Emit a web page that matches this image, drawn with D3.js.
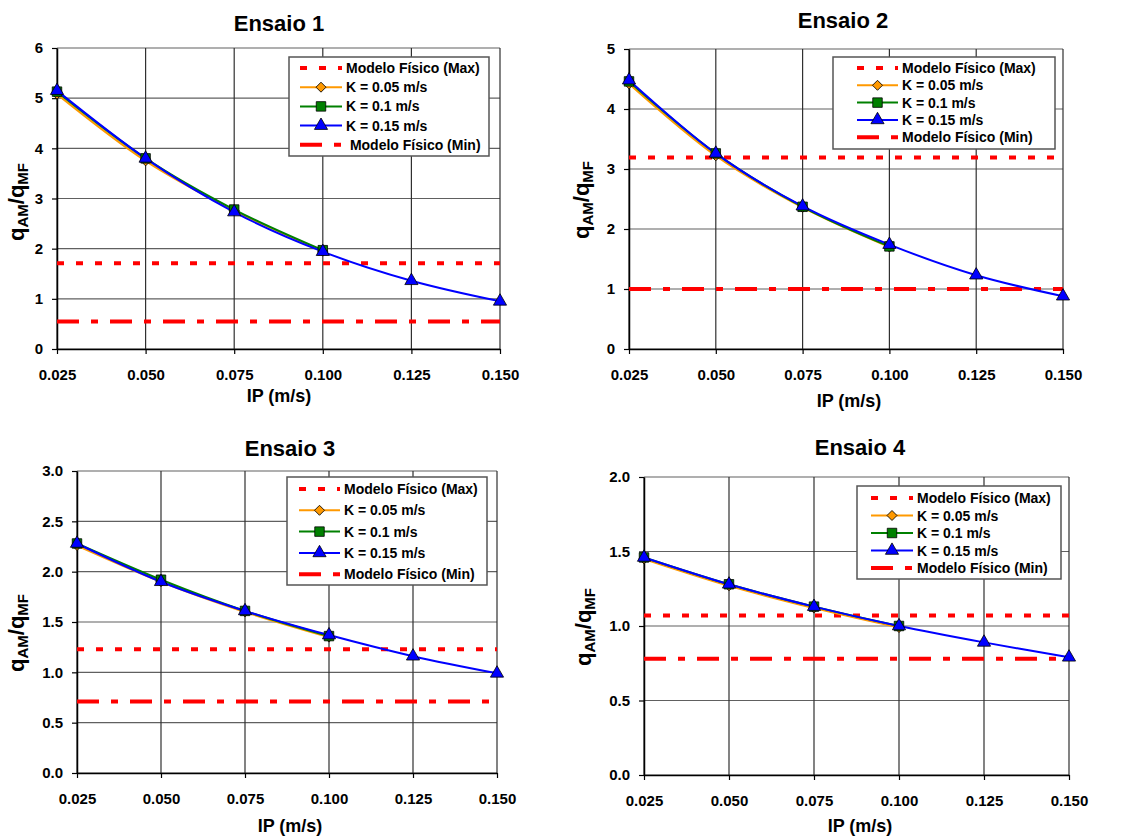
<!DOCTYPE html>
<html>
<head>
<meta charset="utf-8">
<script src="https://cdn.jsdelivr.net/npm/d3@7"></script>
<style>
  body { margin: 0; background: #fff; }
  svg { display: block; font-family: "Liberation Sans", Arial, sans-serif; font-weight: bold; }
</style>
</head>
<body>
<div id="chart"></div>
<script>
// x values (IP, m/s) and tick labels
var ipValues = [0.025, 0.050, 0.075, 0.100, 0.125, 0.150];
var xTickLabels = ["0.025", "0.050", "0.075", "0.100", "0.125", "0.150"];

var seriesNames = ["Modelo Físico (Max)", "K = 0.05 m/s", "K = 0.1 m/s", "K = 0.15 m/s", "Modelo Físico (Min)"];

// Ensaio 1
var e1K005 = [5.08, 3.75, 2.76, 1.95];
var e1K01 = [5.13, 3.80, 2.78, 1.97];
var e1K015 = [5.15, 3.80, 2.73, 1.94, 1.36, 0.95];
var e1Max = 1.71, e1Min = 0.55;
var e1YTicks = [0, 1, 2, 3, 4, 5, 6];
var e1YLabels = ["0", "1", "2", "3", "4", "5", "6"];

// Ensaio 2
var e2K005 = [4.42, 3.22, 2.36, 1.70];
var e2K01 = [4.46, 3.26, 2.37, 1.71];
var e2K015 = [4.48, 3.26, 2.38, 1.74, 1.23, 0.88];
var e2Max = 3.19, e2Min = 1.00;
var e2YTicks = [0, 1, 2, 3, 4, 5];
var e2YLabels = ["0", "1", "2", "3", "4", "5"];

// Ensaio 3
var e3K005 = [2.26, 1.90, 1.60, 1.35];
var e3K01 = [2.28, 1.92, 1.61, 1.36];
var e3K015 = [2.28, 1.90, 1.61, 1.37, 1.16, 0.99];
var e3Max = 1.23, e3Min = 0.71;
var e3YTicks = [0, 0.5, 1.0, 1.5, 2.0, 2.5, 3.0];
var e3YLabels = ["0.0", "0.5", "1.0", "1.5", "2.0", "2.5", "3.0"];

// Ensaio 4
var e4K005 = [1.45, 1.27, 1.12, 0.99];
var e4K01 = [1.46, 1.28, 1.13, 1.00];
var e4K015 = [1.46, 1.28, 1.13, 1.00, 0.89, 0.79];
var e4Max = 1.07, e4Min = 0.78;
var e4YTicks = [0, 0.5, 1.0, 1.5, 2.0];
var e4YLabels = ["0.0", "0.5", "1.0", "1.5", "2.0"];

var svg = d3.select("#chart").append("svg")
    .attr("width", 1143)
    .attr("height", 836);

var colK = ["#FF9900", "#008000", "#0000FF"];
var markerFill = ["#FF9900", "#008000", "#0000FF"];
// diamond = square turned 45 degrees, like Excel's
var markerType = [d3.symbolSquare, d3.symbolSquare, d3.symbolTriangle];
var markerRot = [45, 0, 0];
var markerSize = [50, 90, 75];
var dashMax = "7,12", dashMin = "22,12,7,12";

function drawPanel(p) {
    var g = svg.append("g");
    var x = d3.scaleLinear().domain([0.025, 0.150]).range([p.left, p.right]);
    var y = d3.scaleLinear().domain([0, d3.max(p.yTicks)]).range([p.bottom, p.top]);

    // grid
    g.append("g").selectAll("line.h").data(p.yTicks).enter().append("line")
        .attr("x1", p.left).attr("x2", p.right)
        .attr("y1", d => y(d)).attr("y2", d => y(d))
        .attr("stroke", "#606060").attr("stroke-width", 1.2);
    g.append("g").selectAll("line.v").data(ipValues).enter().append("line")
        .attr("x1", d => x(d)).attr("x2", d => x(d))
        .attr("y1", p.top).attr("y2", p.bottom)
        .attr("stroke", "#303030").attr("stroke-width", 1.2);

    // axes
    var xa = g.append("g").attr("transform", "translate(0," + p.bottom + ")")
        .call(d3.axisBottom(x).tickValues(ipValues).tickFormat((d, i) => xTickLabels[i])
            .tickSizeInner(5).tickSizeOuter(0).tickPadding(15));
    var ya = g.append("g").attr("transform", "translate(" + p.left + ",0)")
        .call(d3.axisLeft(y).tickValues(p.yTicks).tickFormat((d, i) => p.yLabels[i])
            .tickSizeInner(5).tickSizeOuter(0).tickPadding(9));
    [xa, ya].forEach(a => {
        a.select(".domain").attr("stroke", "#000").attr("stroke-width", 1.5);
        a.selectAll(".tick line").attr("stroke", "#000").attr("stroke-width", 1.2);
        a.selectAll("text").attr("fill", "#000").style("font-size", "15px")
            .style("font-family", "'Liberation Sans', Arial, sans-serif").style("font-weight", "bold");
    });

    // reference lines
    g.append("line").attr("x1", p.left).attr("x2", p.right)
        .attr("y1", y(p.max)).attr("y2", y(p.max))
        .attr("stroke", "#FF0000").attr("stroke-width", 4).attr("stroke-dasharray", dashMax);
    g.append("line").attr("x1", p.left).attr("x2", p.right)
        .attr("y1", y(p.min)).attr("y2", y(p.min))
        .attr("stroke", "#FF0000").attr("stroke-width", 4).attr("stroke-dasharray", dashMin);

    // series
    var line = d3.line()
        .x((d, i) => x(ipValues[i]))
        .y(d => y(d))
        .curve(d3.curveCardinal.tension(0));
    p.series.forEach((s, k) => {
        g.append("path").datum(s)
            .attr("d", line).attr("fill", "none")
            .attr("stroke", colK[k]).attr("stroke-width", 2);
    });
    p.series.forEach((s, k) => {
        g.append("g").selectAll("path").data(s).enter().append("path")
            .attr("d", d3.symbol().type(markerType[k]).size(markerSize[k]))
            .attr("transform", (d, i) => "translate(" + x(ipValues[i]) + "," + y(d) + ") rotate(" + markerRot[k] + ")")
            .attr("fill", markerFill[k]).attr("stroke", "#000").attr("stroke-width", 0.8);
    });

    // title
    g.append("text").attr("x", p.titleX).attr("y", p.titleY)
        .attr("text-anchor", "middle").style("font-size", "22px").text(p.title);

    // x label
    g.append("text").attr("x", p.xlabX).attr("y", p.xlabY)
        .attr("text-anchor", "middle").style("font-size", "18px").text("IP (m/s)");

    // y label
    var yl = g.append("text")
        .attr("transform", "translate(" + p.ylabX + "," + p.ylabY + ") rotate(-90)")
        .attr("text-anchor", "middle").style("font-size", "22px");
    yl.append("tspan").text("q");
    yl.append("tspan").style("font-size", "15px").attr("dy", 4).text("AM");
    yl.append("tspan").attr("dy", -4).text("/q");
    yl.append("tspan").style("font-size", "15px").attr("dy", 4).text("MF");

    // legend
    var L = p.legend;
    var lg = g.append("g").attr("transform", "translate(" + L.x + "," + L.y + ")");
    lg.append("rect").attr("width", L.w).attr("height", L.h)
        .attr("fill", "#fff").attr("stroke", "#555").attr("stroke-width", 1.5);
    seriesNames.forEach((name, i) => {
        var cy = L.first + i * L.step;
        var it = lg.append("g").attr("transform", "translate(0," + cy + ")");
        if (i === 0 || i === 4) {
            it.append("line").attr("x1", L.s0).attr("x2", L.s1)
                .attr("stroke", "#FF0000").attr("stroke-width", 4)
                .attr("stroke-dasharray", i === 0 ? dashMax : dashMin);
        } else {
            var k = i - 1;
            it.append("line").attr("x1", L.s0).attr("x2", L.s1)
                .attr("stroke", colK[k]).attr("stroke-width", 2);
            it.append("path")
                .attr("d", d3.symbol().type(markerType[k]).size(markerSize[k]))
                .attr("transform", "translate(" + (L.s0 + L.s1) / 2 + ",0) rotate(" + markerRot[k] + ")")
                .attr("fill", markerFill[k]).attr("stroke", "#000").attr("stroke-width", 0.8);
        }
        it.append("text").attr("x", L.tx).attr("y", 5)
            .style("font-size", "14px").style("white-space", "pre")
            .text((i === 4 && p.minSpace ? " " : "") + name);
    });
}

drawPanel({
    title: "Ensaio 1", titleX: 279, titleY: 31,
    left: 57, right: 500, top: 48, bottom: 349,
    yTicks: e1YTicks, yLabels: e1YLabels,
    series: [e1K005, e1K01, e1K015], max: e1Max, min: e1Min,
    xlabX: 279, xlabY: 402, ylabX: 24, ylabY: 202, minSpace: true,
    legend: {x: 289, y: 57, w: 200, h: 99, first: 11, step: 19.2, s0: 11, s1: 53, tx: 57}
});
drawPanel({
    title: "Ensaio 2", titleX: 843, titleY: 28,
    left: 629, right: 1063, top: 49, bottom: 349,
    yTicks: e2YTicks, yLabels: e2YLabels,
    series: [e2K005, e2K01, e2K015], max: e2Max, min: e2Min,
    xlabX: 849, xlabY: 407, ylabX: 589, ylabY: 200,
    legend: {x: 833, y: 57, w: 222, h: 92, first: 11, step: 17.3, s0: 24, s1: 65, tx: 69}
});
drawPanel({
    title: "Ensaio 3", titleX: 290, titleY: 456,
    left: 77, right: 497, top: 471, bottom: 773,
    yTicks: e3YTicks, yLabels: e3YLabels,
    series: [e3K005, e3K01, e3K015], max: e3Max, min: e3Min,
    xlabX: 290, xlabY: 832, ylabX: 24, ylabY: 633,
    legend: {x: 287, y: 477, w: 200, h: 108, first: 12, step: 21.3, s0: 12, s1: 53, tx: 57}
});
drawPanel({
    title: "Ensaio 4", titleX: 860, titleY: 455,
    left: 644, right: 1069, top: 477, bottom: 775,
    yTicks: e4YTicks, yLabels: e4YLabels,
    series: [e4K005, e4K01, e4K015], max: e4Max, min: e4Min,
    xlabX: 860, xlabY: 832, ylabX: 591, ylabY: 627,
    legend: {x: 857, y: 486, w: 204, h: 93, first: 12, step: 17.5, s0: 14, s1: 56, tx: 60}
});
</script>
</body>
</html>
